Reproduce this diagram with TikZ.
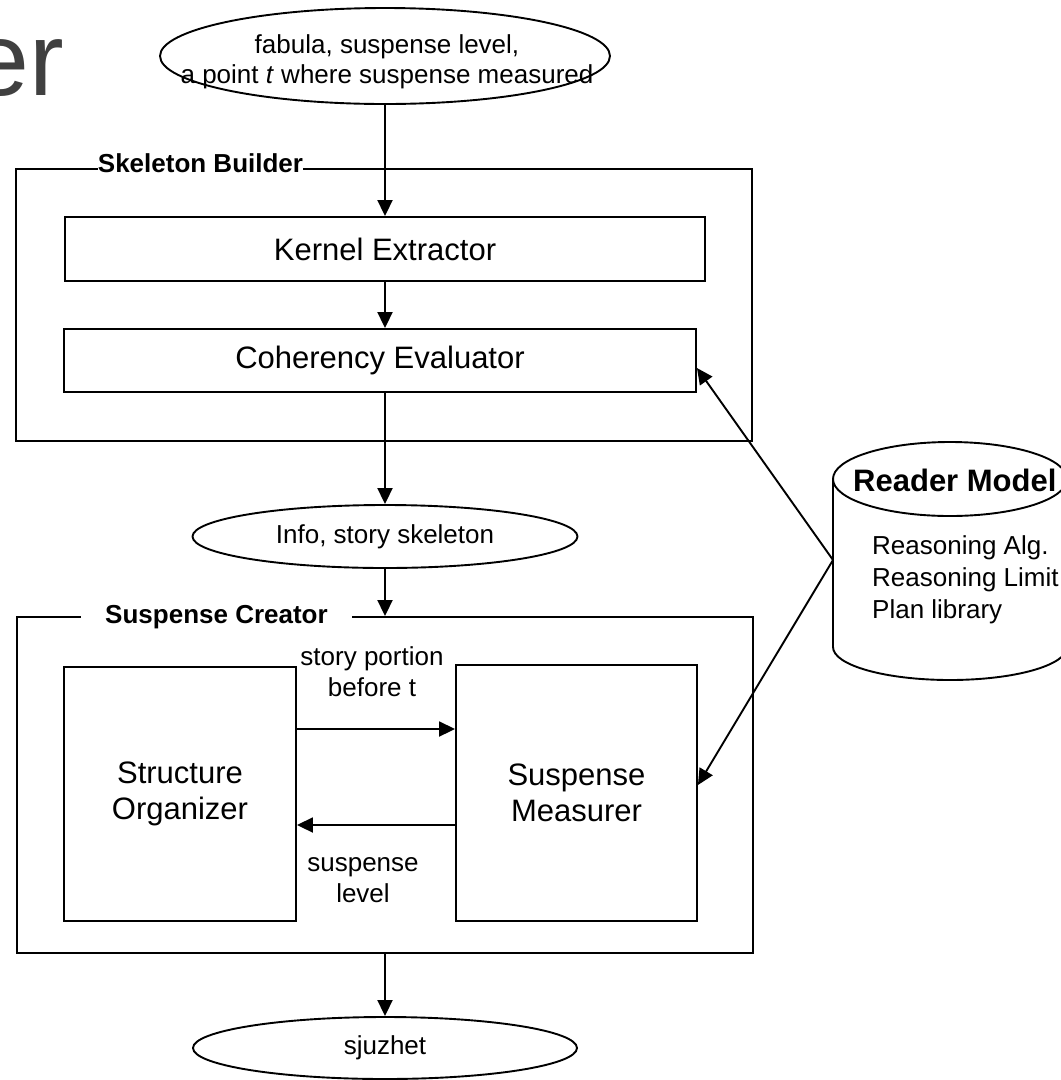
\documentclass[tikz,border=0pt]{standalone}
\usepackage{fontspec}
\setmainfont{Liberation Sans}
\usetikzlibrary{arrows.meta,shapes.geometric,calc}
\definecolor{ergray}{RGB}{64,64,64}
\begin{document}
\begin{tikzpicture}[x=1pt,y=1pt,
  box/.style={draw, rectangle, inner sep=0pt, line width=1.9pt},
  oval/.style={draw, ellipse, inner sep=0pt, line width=1.9pt},
  conn/.style={-{Triangle[length=16pt,width=15pt]}, line width=1.9pt},
  fa/.style={font=\fontsize{26}{30}\selectfont},
  fb/.style={font=\fontsize{31}{36}\selectfont},
  fbold/.style={font=\bfseries\fontsize{26}{30}\selectfont},
]
\useasboundingbox (0,0) rectangle (1061,-1080);

% partial slide title
\node[font=\fontsize{104}{110}\selectfont, text=ergray, anchor=base east, inner sep=0pt] (er) at (64,-95) {er};

% input oval
\node[oval, minimum width=450pt, minimum height=96pt] (top) at (385,-56) {};
\node[fa, align=center, inner sep=0pt] (toptxt) at (387,-62) {fabula, suspense level,\\a point \textit{t} where suspense measured};

% Skeleton Builder
\node[box, minimum width=736pt, minimum height=272pt] (SB) at (384,-305) {};
\node[fbold, fill=white, inner sep=0pt] (SBl) at (200.5,-163) {Skeleton Builder};
\node[box, fb, minimum width=640pt, minimum height=64pt] (KE) at (385,-249) {Kernel Extractor};
\node[box, fb, minimum width=632pt, minimum height=63pt] (CE) at (380,-360.5) {Coherency Evaluator};

% intermediate oval
\node[oval, fa, minimum width=385pt, minimum height=63pt] (info) at (385,-536.5) {Info, story skeleton};

% Suspense Creator
\node[box, minimum width=736pt, minimum height=336pt] (SC) at (385,-785) {};
\node[fbold, fill=white, inner xsep=24.5pt, inner ysep=0pt] (SCl) at (216.5,-617) {Suspense Creator};
\node[box, fb, align=center, minimum width=232pt, minimum height=254pt] (SO) at (180,-794) {Structure\\Organizer};
\node[box, fb, align=center, minimum width=241pt, minimum height=256pt] (SM) at (576.5,-793) {Suspense\\Measurer};
\node[font=\fontsize{26}{31}\selectfont, align=center, inner sep=0pt] (lb1) at (372,-672) {story portion\\before t};
\node[font=\fontsize{26}{31}\selectfont, align=center, inner sep=0pt] (lb2) at (363,-880) {suspense\\level};

% output oval
\node[oval, fa, minimum width=384pt, minimum height=62pt] (sj) at (385,-1048) {sjuzhet};

% Reader Model cylinder
\draw[line width=1.9pt] (833,-479) -- (833,-647) arc[start angle=180, end angle=360, x radius=117, y radius=33] -- (1067,-479);
\draw[line width=1.9pt] (950,-479) ellipse[x radius=117, y radius=37];
\node[anchor=west, inner sep=0pt, font=\bfseries\fontsize{31}{36}\selectfont] (rmt) at (853,-480) {Reader Model};
\node[anchor=west, inner sep=0pt, align=left, font=\fontsize{26}{32}\selectfont] (rml) at (872,-580) {Reasoning Alg.\\Reasoning Limit\\Plan library};
\coordinate (rm) at (833,-560);

% connectors
\draw[conn] (top.south) -- (KE.north);
\draw[conn] (KE.south) -- (KE.south |- CE.north);
\draw[conn] (info.north |- CE.south) -- (info.north);
\draw[conn] (info.south) -- (info.south |- SC.north);
\draw[conn] (SC.south) -- (sj.north);
\coordinate (p1) at ([yshift=65pt]SO.east);
\draw[conn] (p1) -- (p1 -| SM.west);
\coordinate (p2) at ([yshift=-32pt]SM.west);
\draw[conn] (p2) -- (p2 -| SO.east);
\draw[conn] (rm) -- ([yshift=-7.5pt]CE.east);
\draw[conn] (rm) -- ([yshift=8pt]SM.east);
\end{tikzpicture}
\end{document}
